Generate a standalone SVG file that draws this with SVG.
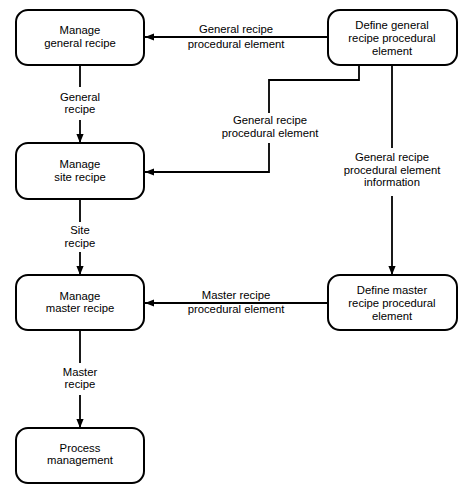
<svg xmlns="http://www.w3.org/2000/svg" width="472" height="493" viewBox="0 0 472 493">
<style>
.box{fill:#fff;stroke:#000;stroke-width:2}
.ln{fill:none;stroke:#000;stroke-width:1.8}
text{font-family:"Liberation Sans",Arial,sans-serif;font-size:11.3px;fill:#000;text-anchor:middle}
</style>
<defs>
<marker id="ah" viewBox="0 0 10 10" refX="10" refY="5" markerWidth="9" markerHeight="9" markerUnits="userSpaceOnUse" orient="auto">
<path d="M0,1 L10,5 L0,9 Z" fill="#000"/>
</marker>
</defs>
<rect width="472" height="493" fill="#fff"/>
<g id="connectors">
<line class="ln" x1="328" y1="37" x2="145" y2="37" marker-end="url(#ah)"/>
<line class="ln" x1="80" y1="65" x2="80" y2="87"/>
<line class="ln" x1="80" y1="120" x2="80" y2="143" marker-end="url(#ah)"/>
<polyline class="ln" points="359,65 359,80 269,80 269,113"/>
<polyline class="ln" points="269,143 269,172 145,172" marker-end="url(#ah)"/>
<line class="ln" x1="392" y1="65" x2="392" y2="148"/>
<line class="ln" x1="392" y1="196" x2="392" y2="275" marker-end="url(#ah)"/>
<line class="ln" x1="80" y1="200" x2="80" y2="222"/>
<line class="ln" x1="80" y1="252" x2="80" y2="275" marker-end="url(#ah)"/>
<line class="ln" x1="328" y1="303" x2="145" y2="303" marker-end="url(#ah)"/>
<line class="ln" x1="80" y1="330" x2="80" y2="363"/>
<line class="ln" x1="80" y1="395" x2="80" y2="428" marker-end="url(#ah)"/>
<text x="236" y="33">General recipe</text>
<text x="236" y="48">procedural element</text>
<text x="80" y="101">General</text>
<text x="80" y="113">recipe</text>
<text x="270" y="124">General recipe</text>
<text x="270" y="137">procedural element</text>
<text x="392" y="161">General recipe</text>
<text x="392" y="174">procedural element</text>
<text x="392" y="186">information</text>
<text x="80" y="234">Site</text>
<text x="80" y="247">recipe</text>
<text x="236" y="299">Master recipe</text>
<text x="236" y="313">procedural element</text>
<text x="80" y="376">Master</text>
<text x="80" y="388">recipe</text>
</g>
<g id="manage-general">
<rect class="box" x="16" y="10" width="128" height="55" rx="12"/>
<text x="80" y="34">Manage</text>
<text x="80" y="47">general recipe</text>
</g>
<g id="manage-site">
<rect class="box" x="16" y="143" width="128" height="56" rx="12"/>
<text x="80" y="168">Manage</text>
<text x="80" y="181">site recipe</text>
</g>
<g id="manage-master">
<rect class="box" x="16" y="275" width="128" height="55" rx="12"/>
<text x="80" y="300">Manage</text>
<text x="80" y="312">master recipe</text>
</g>
<g id="process-management">
<rect class="box" x="16" y="428" width="128" height="55" rx="12"/>
<text x="80" y="452">Process</text>
<text x="80" y="464">management</text>
</g>
<g id="define-general">
<rect class="box" x="328" y="10" width="129" height="55" rx="12"/>
<text x="392" y="29">Define general</text>
<text x="392" y="42">recipe procedural</text>
<text x="392" y="55">element</text>
</g>
<g id="define-master">
<rect class="box" x="328" y="275" width="129" height="55" rx="12"/>
<text x="392" y="294">Define master</text>
<text x="392" y="307">recipe procedural</text>
<text x="392" y="320">element</text>
</g>
</svg>
